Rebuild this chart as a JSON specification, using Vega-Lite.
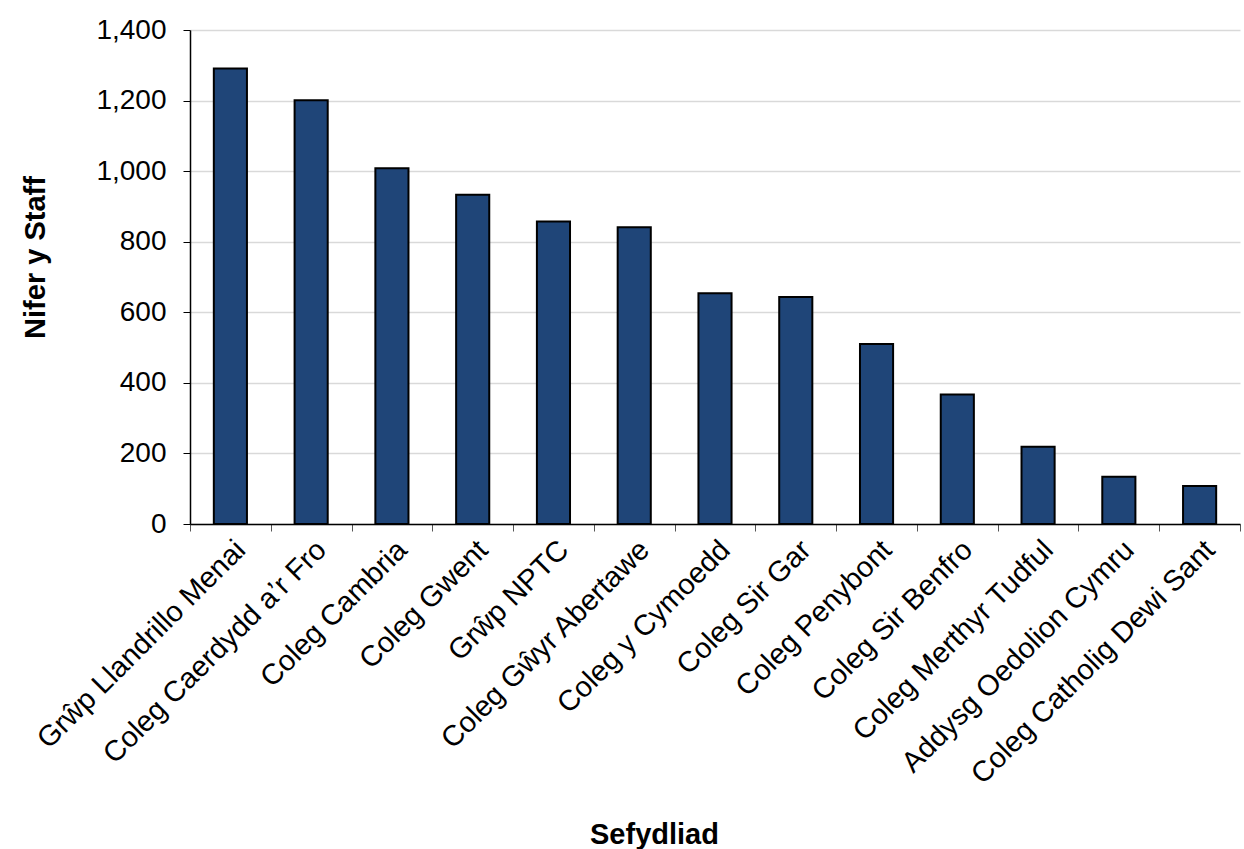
{
  "$schema": "https://vega.github.io/schema/vega-lite/v6.json",
  "autosize": {"type": "none"},
  "width": 1050,
  "height": 494,
  "padding": {"left": 190, "top": 30, "right": 4, "bottom": 325},
  "background": "white",
  "config": {
    "view": {"stroke": null},
    "font": "Liberation Sans",
    "axis": {"labelFont": "Liberation Sans", "titleFont": "Liberation Sans", "labelColor": "#000", "titleColor": "#000"}
  },
  "data": {
    "values": [
      {"Sefydliad": "Grŵp Llandrillo Menai", "Staff": 1291},
      {"Sefydliad": "Coleg Caerdydd a’r Fro", "Staff": 1201},
      {"Sefydliad": "Coleg Cambria", "Staff": 1008},
      {"Sefydliad": "Coleg Gwent", "Staff": 933},
      {"Sefydliad": "Grŵp NPTC", "Staff": 857},
      {"Sefydliad": "Coleg Gŵyr Abertawe", "Staff": 841},
      {"Sefydliad": "Coleg y Cymoedd", "Staff": 654},
      {"Sefydliad": "Coleg Sir Gar", "Staff": 643},
      {"Sefydliad": "Coleg Penybont", "Staff": 510},
      {"Sefydliad": "Coleg Sir Benfro", "Staff": 367},
      {"Sefydliad": "Coleg Merthyr Tudful", "Staff": 219},
      {"Sefydliad": "Addysg Oedolion Cymru", "Staff": 134},
      {"Sefydliad": "Coleg Catholig Dewi Sant", "Staff": 108}
    ]
  },
  "mark": {"type": "bar", "fill": "#1F4578", "stroke": "#000", "strokeWidth": 2, "width": {"band": 0.41}},
  "encoding": {
    "x": {
      "field": "Sefydliad",
      "type": "nominal",
      "sort": null,
      "scale": {"paddingInner": 0, "paddingOuter": 0},
      "axis": {
        "title": "Sefydliad",
        "titleFontSize": 29,
        "titleFontWeight": "bold",
        "titlePadding": 96,
        "titleX": 464,
        "labelAngle": -45,
        "labelFontSize": 29,
        "labelPadding": 4,
        "labelLimit": 0,
        "labelOverlap": false,
        "tickBand": "extent",
        "tickColor": "#555",
        "tickSize": 7,
        "domainColor": "#000",
        "domainWidth": 1.5,
        "grid": false
      }
    },
    "y": {
      "field": "Staff",
      "type": "quantitative",
      "scale": {"domain": [0, 1400]},
      "axis": {
        "title": "Nifer y Staff",
        "titleFontSize": 29,
        "titleFontWeight": "bold",
        "titlePadding": 45,
        "titleY": 227,
        "labelFontSize": 28,
        "labelPadding": 17,
        "labelOverlap": false,
        "values": [0, 200, 400, 600, 800, 1000, 1200, 1400],
        "format": ",d",
        "tickColor": "#000",
        "tickSize": 7,
        "domainColor": "#000",
        "domainWidth": 1.5,
        "gridColor": "#d9d9d9",
        "gridWidth": 1.5
      }
    }
  }
}
